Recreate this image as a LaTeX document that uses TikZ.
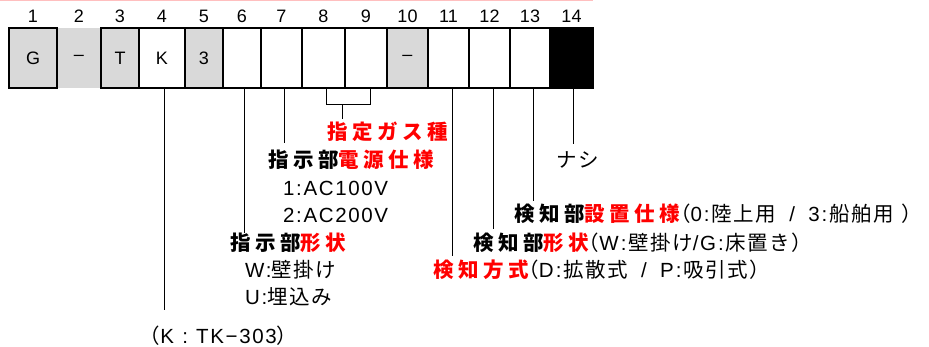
\documentclass[tikz,border=0pt]{standalone}
\usepackage{fontspec}
\usepackage{xcolor}
\usetikzlibrary{positioning}
\newfontfamily\arial{Liberation Sans}
\newfontfamily\la[LetterSpace=8]{Liberation Sans}
\newfontfamily\jp[LetterSpace=7]{Noto Sans CJK JP}
\newfontfamily\jpb[LetterSpace=22]{Noto Sans CJK JP}
\tikzset{
  cell/.style={draw,line width=1.2pt,minimum height=60pt,inner sep=0pt,
    font=\arial\fontsize{18}{20}\selectfont},
  grey/.style={cell,fill=black!15},
  flat/.style={cell,draw=none,fill=black!15},
  open/.style={cell,fill=white},
  blk/.style={cell,fill=black},
  digit/.style={inner sep=0pt,font=\arial\fontsize{18}{20}\selectfont},
  lead/.style={line width=0.8pt},
  lbl/.style={anchor=west,inner sep=0pt,font=\jp\fontsize{20.5}{24}\selectfont},
}
\newcommand{\hlt}[1]{\textcolor{red}{#1}}
\newcommand{\hd}[1]{{\jpb\bfseries #1}}
\newcommand{\cln}{\kern2pt:\kern2pt}
\newcommand{\sep}{\hspace{0.65em}/\hspace{0.65em}}
\newcommand{\lp}{{\jp\kern-0.5em（}}
\newcommand{\rp}{{\jp）\kern-0.45em}}

\begin{document}
\begin{tikzpicture}[x=1pt,y=-1pt]
  \useasboundingbox (0,0) rectangle (929,347);
  \draw[red!25,line width=1.5pt] (0,0.75) -- (593,0.75);
  % code cells
  \foreach \n/\l/\r/\s/\t in {1/9/57/grey/G, 2/57.6/100.4/flat/\textendash,
      3/101/139/grey/T, 4/139/185/open/K, 5/185/223/grey/3, 6/223/261/open/,
      7/261/302/open/, 8/302/345/open/, 9/345/387/open/,
      10/387/428/grey/\textendash, 11/428/469/open/, 12/469/510/open/,
      13/510/550/open/, 14/550/593/blk/} {
    \node[\s,minimum width={(\r-\l)*1pt}] (b\n) at ({(\l+\r)/2},58) {\t};
    \node[digit,above=5pt of b\n] {\n};
  }
  % labels
  \node[lbl] (gas) at (327,132) {\hd{\hlt{指定ガス種}}};
  \node[lbl] (pwr) at (268,160) {\hd{指示部\hlt{電源仕様}}};
  \node[lbl] (v1) at (283,188) {\la 1:AC100V};
  \node[lbl] (v2) at (283,215) {\la 2:AC200V};
  \node[lbl] (ishape) at (230,243) {\hd{指示部\hlt{形状}}};
  \node[lbl] (wall) at (245,270) {{\la W:}壁掛け};
  \node[lbl] (flush) at (245,297) {{\la U:}埋込み};
  \node[lbl] (model) at (150,336) {\lp{\la K\hspace{0.4em}:\hspace{0.4em}TK−303}\rp};
  \node[lbl] (none) at (556,160) {ナシ};
  \node[lbl] (mount) at (514,214)
    {\hd{検知部\hlt{設置仕様}}\lp{\la 0\cln}陸上用{\la\sep 3\cln}船舶用{\la\ }\rp};
  \node[lbl] (dshape) at (473,243)
    {\hd{検知部\hlt{形状}}\lp{\la W\cln}壁掛け{\la/G\cln}床置き\rp};
  \node[lbl] (method) at (433,270)
    {\hd{\hlt{検知方式}}\lp{\la D\cln}拡散式{\la\sep P\cln}吸引式\rp};
  % leader lines
  \draw[lead] ([xshift=2pt]b4.south) -- ++(0,221);
  \draw[lead] ([xshift=2pt]b6.south) -- ++(0,144);
  \draw[lead] ([xshift=2.5pt]b7.south) -- ++(0,54);
  \draw[lead] ([xshift=2.5pt]b8.south) -- ++(0,16) -| ([xshift=4pt]b9.south);
  \draw[lead] ([xshift=18.5pt]b8.south) ++(0,16) -- ++(0,14);
  \draw[lead] ([xshift=4pt]b11.south) -- ++(0,167);
  \draw[lead] ([xshift=3.5pt]b12.south) -- ++(0,140);
  \draw[lead] ([xshift=3pt]b13.south) -- ++(0,112);
  \draw[lead] ([xshift=1.5pt]b14.south) -- ++(0,55);
\end{tikzpicture}
\end{document}
